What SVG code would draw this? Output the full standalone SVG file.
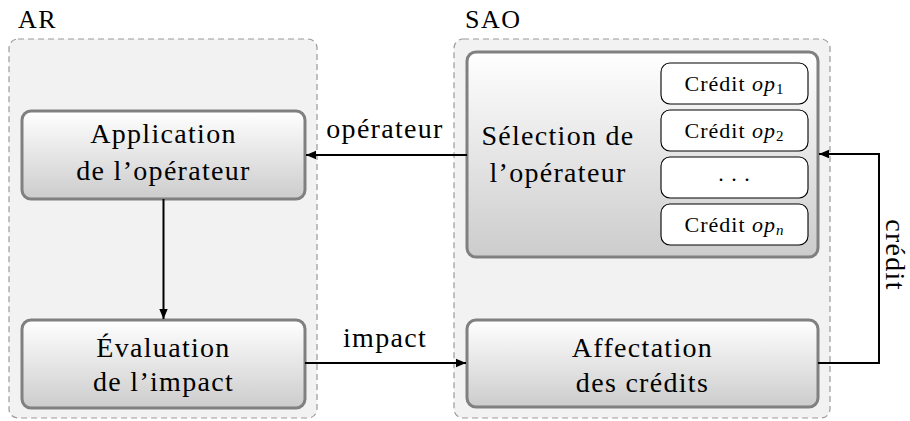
<svg xmlns="http://www.w3.org/2000/svg" width="910" height="421" viewBox="0 0 910 421">
  <defs>
    <linearGradient id="boxFill" x1="0" y1="0" x2="0" y2="1">
      <stop offset="0" stop-color="#ffffff"/>
      <stop offset="1" stop-color="#cccccc"/>
    </linearGradient>
    <marker id="arrow" viewBox="0 0 10 10" refX="10" refY="5" markerWidth="10" markerHeight="10" markerUnits="userSpaceOnUse" orient="auto">
      <path d="M0,0.8 L10,5 L0,9.2 Z" fill="#000"/>
    </marker>
  </defs>
  <style>
    .group { fill: #f2f2f2; stroke: #9a9a9a; stroke-width: 1.2; stroke-dasharray: 6 4; }
    .box { fill: url(#boxFill); stroke: #808080; stroke-width: 3; }
    .slot { fill: #ffffff; stroke: #000; stroke-width: 1.1; }
    .t { font-family: "Liberation Serif", "DejaVu Serif", serif; fill: #000; }
    .big { font-size: 28px; text-anchor: middle; letter-spacing: 1.3px; }
    .small { font-size: 22px; text-anchor: middle; letter-spacing: 1px; }
    .title { font-size: 26px; letter-spacing: 1.5px; }
    .edge { fill: none; stroke: #000; stroke-width: 2; marker-end: url(#arrow); }
  </style>

  <!-- containers -->
  <g id="AR">
    <rect class="group" x="9" y="39" width="308" height="379" rx="9"/>
    <text class="t title" x="18" y="28">AR</text>
  </g>
  <g id="SAO">
    <rect class="group" x="454" y="39" width="376" height="379" rx="9"/>
    <text class="t title" x="465" y="28">SAO</text>
  </g>

  <!-- nodes -->
  <g id="application">
    <rect class="box" x="22" y="111" width="283" height="88" rx="9"/>
    <text class="t big" x="163.5" y="143">Application</text>
    <text class="t big" x="163.5" y="180">de l’opérateur</text>
  </g>
  <g id="evaluation">
    <rect class="box" x="22" y="320" width="283" height="88" rx="9"/>
    <text class="t big" x="163.5" y="357">Évaluation</text>
    <text class="t big" x="163.5" y="391">de l’impact</text>
  </g>
  <g id="selection">
    <rect class="box" x="467" y="52" width="351" height="205" rx="9"/>
    <text class="t big" x="558" y="145">Sélection de</text>
    <text class="t big" x="558" y="182">l’opérateur</text>
  </g>
  <g id="credit-op1">
    <rect class="slot" x="661" y="63" width="147" height="41" rx="9"/>
    <text class="t small" x="734.5" y="91">Crédit <tspan font-style="italic">op</tspan><tspan font-size="15" dy="3">1</tspan></text>
  </g>
  <g id="credit-op2">
    <rect class="slot" x="661" y="110" width="147" height="41" rx="9"/>
    <text class="t small" x="734.5" y="138">Crédit <tspan font-style="italic">op</tspan><tspan font-size="15" dy="3">2</tspan></text>
  </g>
  <g id="credit-dots">
    <rect class="slot" x="661" y="157" width="147" height="41" rx="9"/>
    <text class="t small" x="734.5" y="181">. . .</text>
  </g>
  <g id="credit-opn">
    <rect class="slot" x="661" y="204" width="147" height="41" rx="9"/>
    <text class="t small" x="734.5" y="232">Crédit <tspan font-style="italic">op</tspan><tspan font-size="15" font-style="italic" dy="3">n</tspan></text>
  </g>
  <g id="affectation">
    <rect class="box" x="467" y="320" width="351" height="87" rx="9"/>
    <text class="t big" x="642.5" y="357">Affectation</text>
    <text class="t big" x="642.5" y="392">des crédits</text>
  </g>

  <!-- connectors -->
  <g id="connectors">
    <path class="edge" d="M467,155 H306"/>
    <path class="edge" d="M163.5,199 V319"/>
    <path class="edge" d="M305,363 H466"/>
    <path class="edge" d="M818,363 H879 V154 H819"/>
    <text class="t big" x="385" y="138">opérateur</text>
    <text class="t big" x="385" y="347">impact</text>
    <text class="t big" transform="translate(886,255) rotate(90)" x="0" y="0">crédit</text>
  </g>
</svg>
